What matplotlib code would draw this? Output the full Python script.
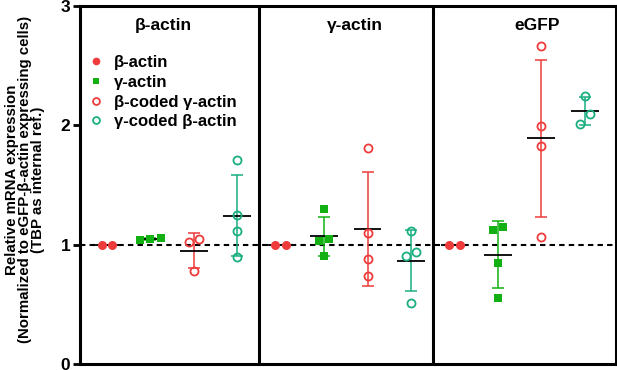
"""Relative mRNA expression of actin isoforms, three panels on one axis."""
import numpy as np
import matplotlib
matplotlib.use("Agg")
import matplotlib.pyplot as plt
from matplotlib.lines import Line2D

plt.rcParams["font.family"] = ["Liberation Sans", "DejaVu Sans"]
plt.rcParams["font.weight"] = "bold"

# panels (one per measured transcript) and series within each panel
panels = ["β-actin", "γ-actin", "eGFP"]
series = ["β-actin", "γ-actin", "β-coded γ-actin", "γ-coded β-actin"]

# replicate values per panel, one list per series
beta_actin = [[1.0, 1.0], [1.0, 1.0], [1.0, 1.0]]
gamma_actin = [[1.06, 1.04, 1.045],
               [1.297, 1.048, 1.034, 0.908],
               [1.12, 1.148, 0.849, 0.551]]
beta_coded_gamma = [[1.05, 1.02, 0.78],
                    [1.808, 1.101, 0.880, 0.740],
                    [2.666, 1.998, 1.827, 1.067]]
gamma_coded_beta = [[1.707, 1.249, 1.117, 0.899],
                    [1.117, 0.941, 0.902, 0.509],
                    [2.249, 2.096, 2.015]]

RED = "#EE3B3B"
GREEN = "#12B012"
TEAL = "#1AAE80"
styles = [
    dict(marker="o", color=RED, mfc=RED, ms=6.5, mew=0),
    dict(marker="s", color=GREEN, mfc=GREEN, ms=5.2, mew=0),
    dict(marker="o", color=RED, mfc="none", ms=5.8, mew=1.3),
    dict(marker="o", color=TEAL, mfc="none", ms=5.8, mew=1.3),
]
all_series = [beta_actin, gamma_actin, beta_coded_gamma, gamma_coded_beta]


def swarm_offsets(vals, thresh=0.09, step=0.24):
    """spread points with nearly equal values sideways"""
    vals = np.asarray(vals, dtype=float)
    order = np.argsort(vals)
    offs = np.zeros(len(vals))
    clusters = [[order[0]]]
    for i in order[1:]:
        if vals[i] - vals[clusters[-1][-1]] < thresh:
            clusters[-1].append(i)
        else:
            clusters.append([i])
    for c in clusters:
        n = len(c)
        for k, i in enumerate(c):
            offs[i] = (k - (n - 1) / 2) * step
    return offs


fig = plt.figure(figsize=(6.17, 3.70), dpi=100)
ax = fig.add_axes([0.1297, 0.016, 0.868, 0.968])

ax.axhline(1, color="black", lw=1.5, ls=(0, (2.6, 2.0)), zorder=1.5)

for p in range(len(panels)):
    for s in range(len(series)):
        vals = np.asarray(all_series[s][p], dtype=float)
        x0 = p * 4 + s
        st = styles[s]
        mean = vals.mean()
        sd = vals.std(ddof=1)
        ax.errorbar(x0, mean, yerr=sd, fmt="none", ecolor=st["color"],
                    elinewidth=1.1, capsize=4.5, capthick=1.1, zorder=2)
        ax.hlines(mean, x0 - 0.32, x0 + 0.32, color="black", lw=1.3, zorder=2.5)
        ax.plot(x0 + swarm_offsets(vals), vals, ls="none", zorder=3,
                marker=st["marker"], color=st["color"], mfc=st["mfc"],
                mec=st["color"], ms=st["ms"], mew=st["mew"])

# panel separators
for xs in [3.5, 7.5]:
    ax.axvline(xs, color="black", lw=2.2, zorder=4)

title_x = [1.3, 5.7, 9.9]
for tx, name in zip(title_x, panels):
    ax.text(tx, 2.84, name, ha="center", va="center", fontsize=12.5,
            fontweight="bold")

handles = [Line2D([], [], ls="none", marker=st["marker"], color=st["color"],
                  mfc=st["mfc"], mec=st["color"], ms=st["ms"] * 0.85,
                  mew=st["mew"]) for st in styles]
ax.legend(handles, series, loc="upper left", bbox_to_anchor=(-0.005, 0.89),
          frameon=False, fontsize=12, handlelength=1.0, handletextpad=0.6,
          labelspacing=0.28, borderaxespad=0.2)

ax.set_xlim(-0.62, 11.71)
ax.set_ylim(0, 3)
ax.set_xticks([])
ax.set_yticks([0, 1, 2, 3])
ax.tick_params(axis="y", direction="out", length=5, width=2, labelsize=12.5,
               pad=2)
for lab in ax.get_yticklabels():
    lab.set_fontweight("bold")
for sp in ax.spines.values():
    sp.set_linewidth(2.2)

ax.set_ylabel("Relative mRNA expression\n"
              "(Normalized to eGFP-β-actin expressing cells)\n"
              "(TBP as internal ref.)",
              fontsize=10.8, fontweight="bold", linespacing=0.92)
ax.yaxis.set_label_coords(-0.065, 0.515)

fig.savefig("out.png", dpi=100)
